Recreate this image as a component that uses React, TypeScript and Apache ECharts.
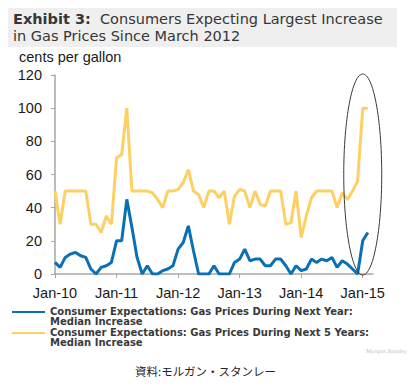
import React, { useEffect, useRef } from "react";
import * as echarts from "echarts";

const years = ["10", "11", "12", "13", "14", "15"];
const monthNames = ["Jan", "Feb", "Mar", "Apr", "May", "Jun", "Jul", "Aug", "Sep", "Oct", "Nov", "Dec"];
const categories: string[] = [];
years.forEach((y) => monthNames.forEach((m) => categories.push(`${m}-${y}`)));
const axisCategories = categories.slice(0, 63); // Jan-10 .. Mar-15

const nextYear = [
  7, 4, 10, 12, 13, 11, 10, 3, 0, 4, 5, 7,
  20, 20, 45, 28, 10, 0, 5, 0, 0, 2, 3, 5,
  15, 19, 29, 14, 0, 0, 0, 5, 0, 0, 0, 7,
  9, 15, 8, 9, 9, 5, 5, 9, 9, 5, 0, 5,
  2, 3, 9, 7, 9, 8, 10, 4, 8, 6, 3, 0,
  20, 25,
];
const next5Years = [
  50, 30, 50, 50, 50, 50, 50, 30, 30, 25, 35, 30,
  70, 72, 100, 50, 50, 50, 50, 49, 45, 40, 50, 50,
  51, 55, 63, 50, 48, 40, 50, 50, 46, 50, 30, 47,
  51, 50, 40, 50, 42, 41, 50, 50, 50, 30, 31, 50,
  22, 35, 46, 50, 50, 50, 50, 40, 49, 45, 50, 56,
  100, 100,
];
const seriesNames = [
  "Consumer Expectations: Gas Prices During Next Year:\nMedian Increase",
  "Consumer Expectations: Gas Prices During Next 5 Years:\nMedian Increase",
];
const yMin = 0;
const yMax = 120;
const yInterval = 20;

export default function App() {
  const ref = useRef<HTMLDivElement>(null);
  useEffect(() => {
    if (!ref.current) return;
    const chart = echarts.init(ref.current, null, { renderer: "svg" });
    const titleFont = "DejaVu Sans";
    const sans = "Liberation Sans, Arial, sans-serif";
    const titleStyle = {
      fontFamily: titleFont,
      fontSize: 14.5,
      fontWeight: "normal",
      color: "#363636",
      lineHeight: 15,
      rich: {
        b: { fontFamily: titleFont, fontSize: 14.5, fontWeight: "bold", color: "#363636", lineHeight: 15 },
      },
    };
    const bgRect = {
      type: "rect",
      z: -10,
      shape: { x: 8, y: 8, width: 389, height: 39 },
      style: { fill: "#efefef" },
    };
    chart.setOption({
      animation: false,
      backgroundColor: "#ffffff",
      title: [
        {
          text: "{b|Exhibit 3:}  Consumers Expecting Largest Increase",
          left: 13,
          top: 11,
          padding: 0,
          textStyle: titleStyle,
        },
        {
          text: "in Gas Prices Since March 2012",
          left: 13,
          top: 28,
          padding: 0,
          textStyle: titleStyle,
        },
        {
          text: "cents per gallon",
          left: 19,
          top: 49,
          padding: 0,
          textStyle: { fontFamily: sans, fontSize: 14.5, fontWeight: "normal", color: "#1a1a1a" },
        },
        {
          text: "資料:モルガン・スタンレー",
          left: "center",
          top: 365,
          padding: 0,
          textStyle: { fontFamily: "Noto Sans CJK JP", fontSize: 11.5, fontWeight: "normal", color: "#222222" },
        },
        {
          text: "Morgan Stanley",
          left: 366,
          top: 348,
          padding: 0,
          textStyle: { fontFamily: "DejaVu Serif", fontSize: 5, fontStyle: "italic", fontWeight: "normal", color: "#b8b8b8" },
        },
      ],
      grid: { left: 55, top: 75, width: 318, height: 199, containLabel: false },
      legend: {
        orient: "vertical",
        left: 12,
        top: 306,
        icon: "path://M0,0L33,0L33,2L0,2Z M0,10L1,10",
        itemWidth: 33,
        itemHeight: 10,
        itemGap: 1,
        padding: 0,
        textStyle: {
          fontFamily: "DejaVu Sans",
          fontSize: 10,
          fontWeight: "bold",
          color: "#3a3a3a",
          lineHeight: 10,
        },
        data: seriesNames,
      },
      xAxis: {
        type: "category",
        data: axisCategories,
        boundaryGap: false,
        axisLine: { lineStyle: { color: "#a6a6a6", width: 1.5 } },
        axisTick: {
          show: true,
          length: 4,
          lineStyle: { color: "#a6a6a6" },
          interval: (i: number) => i % 12 === 0,
        },
        axisLabel: {
          interval: (i: number) => i % 12 === 0,
          fontFamily: sans,
          fontSize: 14.5,
          color: "#1a1a1a",
          margin: 11,
        },
        splitLine: { show: false },
      },
      yAxis: {
        type: "value",
        min: yMin,
        max: yMax,
        interval: yInterval,
        axisLine: { show: true, lineStyle: { color: "#a6a6a6", width: 1.5 } },
        axisTick: { show: true, length: 4, lineStyle: { color: "#a6a6a6" } },
        axisLabel: { fontFamily: sans, fontSize: 14.5, color: "#1a1a1a", margin: 13 },
        splitLine: { show: false },
      },
      series: [
        {
          name: seriesNames[0],
          type: "line",
          data: nextYear,
          showSymbol: false,
          symbol: "none",
          color: "#0a70b6",
          lineStyle: { color: "#0a70b6", width: 3 },
          z: 3,
        },
        {
          name: seriesNames[1],
          type: "line",
          data: next5Years,
          showSymbol: false,
          symbol: "none",
          color: "#fdd064",
          lineStyle: { color: "#fdd064", width: 3 },
          z: 2,
        },
      ],
      graphic: [bgRect],
    });
    const center = chart.convertToPixel({ gridIndex: 0 }, [60, (yMin + yMax) / 2]) as number[];
    const top = chart.convertToPixel({ gridIndex: 0 }, [60, yMax]) as number[];
    const ry = center[1] - top[1];
    chart.setOption({
      graphic: [
        bgRect,
        {
          type: "ellipse",
          z: 100,
          shape: { cx: center[0], cy: center[1], rx: 19, ry: ry + 1 },
          style: { fill: "none", stroke: "#3a3a3a", lineWidth: 1 },
        },
      ],
    });
    return () => chart.dispose();
  }, []);
  return (
    <div
      ref={ref}
      style={{ position: "fixed", left: 0, top: 0, width: 411, height: 387 }}
    />
  );
}
